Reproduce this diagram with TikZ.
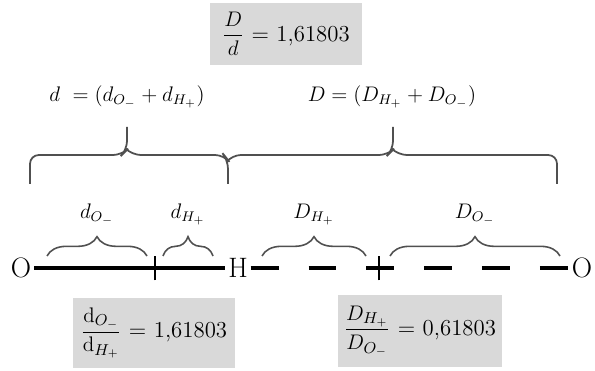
\documentclass[tikz,border=0pt]{standalone}
\usepackage{amsmath}
\usepackage{tikz}
\usetikzlibrary{decorations.pathreplacing}
\usepackage{xcolor}
\definecolor{boxgray}{HTML}{D9D9D9}
\definecolor{bracegray}{HTML}{505050}

\begin{document}
\begin{tikzpicture}[
    x=0.02cm, y=-0.02cm,
    ratio/.style={rectangle, fill=boxgray, inner sep=0pt,
                  font=\fontsize{13}{15}\selectfont},
    eq/.style={font=\large},
    atom/.style={font=\fontsize{16}{18}\selectfont, inner sep=1.5pt},
    bond/.style={line width=2.4pt},
    hbond/.style={bond, dash pattern=on 15.9pt off 17pt},
    tick/.style={line width=1pt},
    bigbrace/.style={draw=bracegray, line width=1pt, rounded corners=5pt},
    smallbrace/.style={draw=bracegray, line width=0.9pt,
                       decorate, decoration={brace, amplitude=11pt}},
  ]
    \useasboundingbox (0,0) rectangle (595,371);

    % ratio boxes
    \node[ratio, minimum width=3.06cm, minimum height=1.26cm] (top) at (286,34)
        {$\dfrac{D}{d}$ = 1,61803};
    \node[ratio, minimum width=3.26cm, minimum height=1.4cm] (left) at (154,333)
        {$\dfrac{\mathrm{d}_{O_-}}{\mathrm{d}_{H_+}}$ = 1,61803};
    \node[ratio, minimum width=3.3cm, minimum height=1.44cm] (right) at (420,331)
        {$\dfrac{D_{H_+}}{D_{O_-}}$ = 0,61803};

    % sums
    \node[eq] (dsum) at (127,97) {$d\ = (d_{O_-} + d_{H_+})$};
    \node[eq] (Dsum) at (392,97) {$D = (D_{H_+} + D_{O_-})$};

    % big braces
    \draw[bigbrace] (30,184) -- (30,155) -- (122,155) -- (127,150) -- (127,127);
    \draw[bigbrace] (127,150) -- (132,155) -- (224,155) -- (228,160) -- (228,184);
    \draw[bigbrace] (228,160) -- (232,155) -- (388,155) -- (393,150) -- (393,127);
    \draw[bigbrace] (393,150) -- (398,155) -- (557,155) -- (557,184);

    % atoms and bonds
    \node[atom] (o1) at (21,268) {O};
    \node[atom] (h) at (238,268) {H};
    \node[atom] (o2) at (582,268) {O};
    \draw[bond] (o1) -- (h);
    \draw[hbond] (h) -- (o2);
    \coordinate (m1) at (155,268);
    \coordinate (m2) at (379,268);
    \draw[tick] ([yshift=-7pt]m1) -- ([yshift=7pt]m1);
    \draw[tick] ([yshift=-7pt]m2) -- ([yshift=7pt]m2);

    % small braces
    \draw[smallbrace] (47,256) -- node[eq, above=14pt] (dO) {$d_{O_-}$} (147,256);
    \draw[smallbrace] (163,256) -- node[eq, above=14pt] (dH) {$d_{H_+}$} (213,256);
    \draw[smallbrace] (262,256) -- node[eq, above=14pt] (DH) {$D_{H_+}$} (366,256);
    \draw[smallbrace] (390,256) -- node[eq, above=14pt] (DO) {$D_{O_-}$} (560,256);
  \end{tikzpicture}
\end{document}
